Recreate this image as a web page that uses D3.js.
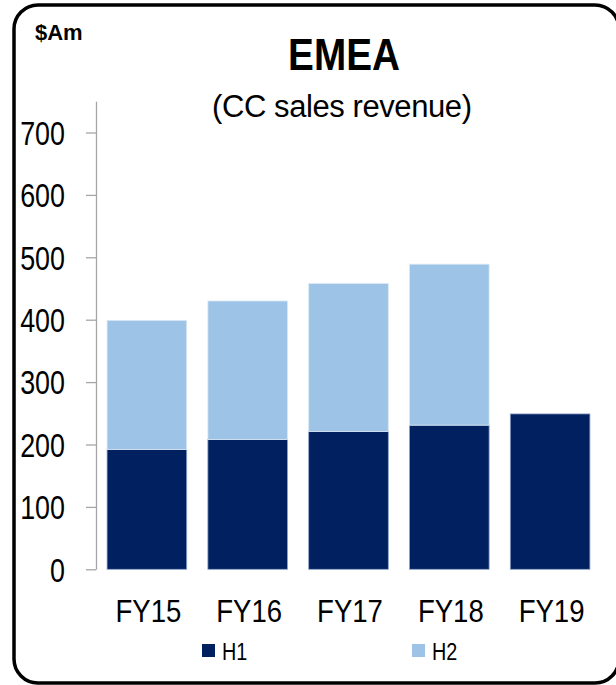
<!DOCTYPE html>
<html>
<head>
<meta charset="utf-8">
<script src="https://cdn.jsdelivr.net/npm/d3@7"></script>
<style>
  html, body { margin: 0; padding: 0; background: #fff; }
  svg { display: block; font-family: "Liberation Sans", Arial, sans-serif; }
</style>
</head>
<body>
<svg id="chart"></svg>
<script>
'use strict';

const WIDTH = 616;
const HEIGHT = 685;

const YEARS = ['FY15', 'FY16', 'FY17', 'FY18', 'FY19'];
const H1 = [192, 208, 221, 231, 249];
const H2 = [207, 222, 237, 258, 0];
const SERIES = ['H1', 'H2'];
const COLORS = { H1: '#002060', H2: '#9dc3e6' };
const Y_TICKS = [0, 100, 200, 300, 400, 500, 600, 700];

const rows = YEARS.map((y, i) => ({ year: y, H1: H1[i], H2: H2[i] }));

// squeeze text horizontally (source uses a narrow face)
function squeeze(sel, k, adjust) {
  sel.each(function () {
    const w = this.getComputedTextLength();
    this.setAttribute('textLength', w * k);
    this.setAttribute('lengthAdjust', adjust || 'spacingAndGlyphs');
  });
  return sel;
}

const svg = d3.select('#chart')
  .attr('width', WIDTH)
  .attr('height', HEIGHT)
  .attr('viewBox', `0 0 ${WIDTH} ${HEIGHT}`);

// frame
svg.append('rect')
  .attr('x', 14).attr('y', 5)
  .attr('width', 605).attr('height', 678)
  .attr('rx', 24).attr('ry', 24)
  .attr('fill', '#fff').attr('stroke', '#000').attr('stroke-width', 3.5);

const x = d3.scaleBand()
  .domain(YEARS)
  .range([96.5, 600.5])
  .paddingInner(0.21)
  .paddingOuter(0.105);

const y = d3.scaleLinear()
  .domain([0, 750])
  .range([569.3, 101.3]);

const stacked = d3.stack().keys(SERIES)(rows);

svg.append('g')
  .selectAll('g')
  .data(stacked)
  .join('g')
  .attr('fill', d => COLORS[d.key])
  .attr('stroke', d => d.key === 'H1' ? '#8fa3c8' : '#dce9f6')
  .attr('stroke-width', 0.8)
  .selectAll('rect')
  .data(d => d.filter(s => s[1] - s[0] > 0))
  .join('rect')
  .attr('x', d => x(d.data.year))
  .attr('width', x.bandwidth())
  .attr('y', d => y(d[1]))
  .attr('height', d => y(d[0]) - y(d[1]));

// y axis
const yAxis = svg.append('g')
  .attr('transform', 'translate(96,0)')
  .call(d3.axisLeft(y).tickValues(Y_TICKS).tickSize(10).tickPadding(0).tickSizeOuter(0));
yAxis.select('.domain').attr('stroke', '#a6a6a6').attr('stroke-width', 1.3);
yAxis.selectAll('.tick line').attr('stroke', '#a6a6a6').attr('stroke-width', 1.3);
yAxis.selectAll('.tick text')
  .attr('x', -31).attr('dy', '11.7')
  .attr('fill', '#000').attr('font-size', 34)
  .attr('font-family', '"Liberation Sans", Arial, sans-serif')
  .attr('text-anchor', 'end');
squeeze(yAxis.selectAll('.tick text'), 0.79);

// category labels
const cats = svg.append('g').selectAll('text')
  .data(YEARS)
  .join('text')
  .attr('x', d => x(d) + x.bandwidth() / 2 + 1.5)
  .attr('y', 621.7)
  .attr('text-anchor', 'middle')
  .attr('font-size', 32)
  .attr('fill', '#000')
  .text(d => d);
squeeze(cats, 0.86);

// titles
svg.append('text')
  .attr('x', 35).attr('y', 40)
  .attr('font-size', 22).attr('font-weight', 'bold')
  .text('$Am');

const title = svg.append('text')
  .attr('x', 344).attr('y', 70)
  .attr('text-anchor', 'middle')
  .attr('font-size', 44).attr('font-weight', 'bold')
  .text('EMEA');
squeeze(title, 0.88);

svg.append('text')
  .attr('x', 342).attr('y', 116.5)
  .attr('text-anchor', 'middle')
  .attr('font-size', 31)
  .attr('textLength', 260).attr('lengthAdjust', 'spacing')
  .text('(CC sales revenue)');

// legend
const legend = svg.append('g').selectAll('g')
  .data(SERIES)
  .join('g')
  .attr('transform', (d, i) => `translate(${202 + i * 210},644)`);
legend.append('rect')
  .attr('width', 13).attr('height', 13)
  .attr('fill', d => COLORS[d]);
const legText = legend.append('text')
  .attr('x', 20).attr('y', 15.5)
  .attr('font-size', 23)
  .text(d => d);
squeeze(legText, 0.86);
</script>
</body>
</html>
